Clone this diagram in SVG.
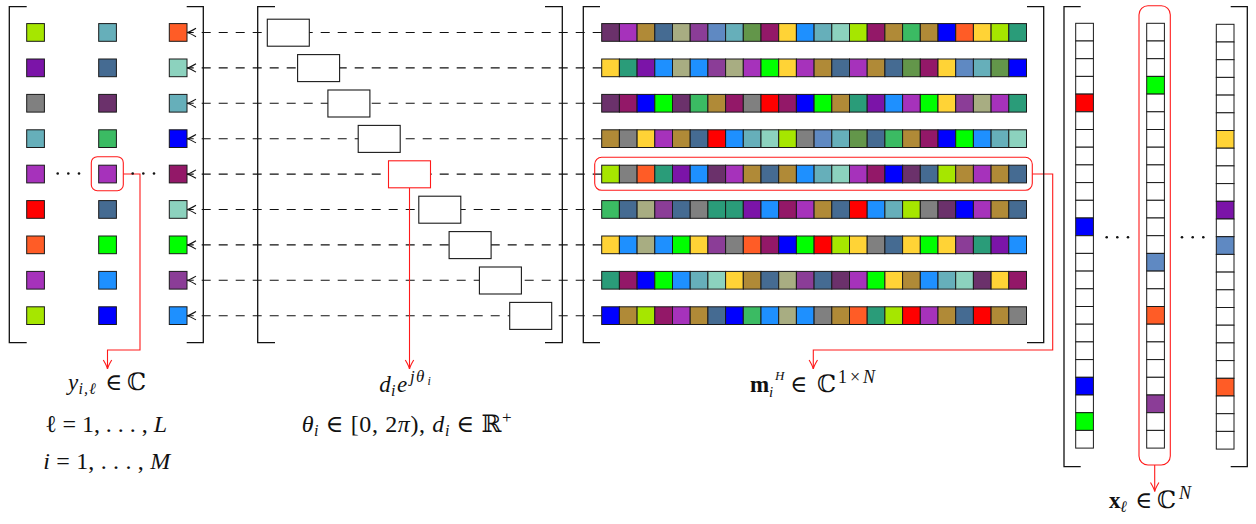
<svg xmlns="http://www.w3.org/2000/svg" xmlns:xlink="http://www.w3.org/1999/xlink" width="1256" height="524" viewBox="0 0 1256 524">
<style>
.br{fill:none;stroke:#111;stroke-width:1.3}
.sq{stroke:#1a1a1a;stroke-width:1}
.dash{stroke:#111;stroke-width:1.1;stroke-dasharray:9 8;fill:none}
.red{stroke:#ff1a1a;stroke-width:1.1;fill:none}
.bx{fill:#fff;stroke:#1a1a1a;stroke-width:1.1}
.bxr{fill:#fff;stroke:#ff1a1a;stroke-width:1.1}
.t{font-family:'Liberation Serif','DejaVu Serif',serif;fill:#111}
.i{font-style:italic}
.w{fill:#fff}.lm{fill:#a6e600}.vi{fill:#7b14a8}.gy{fill:#808080}.te{fill:#66afba}.mp{fill:#a632bb}.rd{fill:#ff0000}.or{fill:#ff5c26}.sb{fill:#456b92}.dp{fill:#6b316b}.gn{fill:#3bbb63}.bg{fill:#00ff00}.db{fill:#1e90ff}.bl{fill:#0000ff}.ma{fill:#931868}.aq{fill:#8cd2be}.pm{fill:#8b3d97}.tn{fill:#b08a37}.kh{fill:#a8ad82}.cf{fill:#5f89c2}.og{fill:#63964a}.gd{fill:#ffd336}.sg{fill:#2a9c79}
</style>
<defs>
<rect id="s" class="sq" width="17.7" height="17.7"/>
<marker id="ak" markerUnits="userSpaceOnUse" viewBox="-11 -6 13 12" refX="0" refY="0" markerWidth="13" markerHeight="12" orient="auto">
<path d="M-9,-4.2 Q-3,-0.6 0,0 Q-3,0.6 -9,4.2" fill="none" stroke="#111" stroke-width="1.1"/>
</marker>
<marker id="ar" markerUnits="userSpaceOnUse" viewBox="-11 -6 13 12" refX="0" refY="0" markerWidth="13" markerHeight="12" orient="auto">
<path d="M-9,-4.2 Q-3,-0.6 0,0 Q-3,0.6 -9,4.2" fill="none" stroke="#ff1a1a" stroke-width="1.1"/>
</marker>
</defs>
<rect width="1256" height="524" fill="#fff"/>

<g id="connectors">
<line class="dash" x1="601.7" y1="32.5" x2="187" y2="32.5" marker-end="url(#ak)"/>
<line class="dash" x1="601.7" y1="67.9" x2="187" y2="67.9" marker-end="url(#ak)"/>
<line class="dash" x1="601.7" y1="103.3" x2="187" y2="103.3" marker-end="url(#ak)"/>
<line class="dash" x1="601.7" y1="138.7" x2="187" y2="138.7" marker-end="url(#ak)"/>
<line class="dash" x1="601.7" y1="174.1" x2="187" y2="174.1" marker-end="url(#ak)"/>
<line class="dash" x1="601.7" y1="209.5" x2="187" y2="209.5" marker-end="url(#ak)"/>
<line class="dash" x1="601.7" y1="244.9" x2="187" y2="244.9" marker-end="url(#ak)"/>
<line class="dash" x1="601.7" y1="280.3" x2="187" y2="280.3" marker-end="url(#ak)"/>
<line class="dash" x1="601.7" y1="315.7" x2="187" y2="315.7" marker-end="url(#ak)"/>
<path class="red" d="M123.3,174 H140 V350 H107.5 V369" marker-end="url(#ar)"/>
<path class="red" d="M409.5,187.8 V369" marker-end="url(#ar)"/>
<path class="red" d="M1032.3,174 H1052.7 V350 H813.3 V369" marker-end="url(#ar)"/>
<path class="red" d="M1154.7,465 V491.5" marker-end="url(#ar)"/>
</g>

<g id="matrix-y">
<path class="br" d="M26.7,6.7 H9.3 V342.7 H26.7"/>
<path class="br" d="M186.7,6.7 H203.3 V342.7 H186.7"/>
<g transform="translate(26.7,23.6)">
<use href="#s" y="0" class="lm"/><use href="#s" y="35.4" class="vi"/><use href="#s" y="70.8" class="gy"/><use href="#s" y="106.2" class="te"/><use href="#s" y="141.6" class="mp"/><use href="#s" y="177" class="rd"/><use href="#s" y="212.4" class="or"/><use href="#s" y="247.8" class="mp"/><use href="#s" y="283.2" class="lm"/>
</g>
<g transform="translate(98.7,23.6)">
<use href="#s" y="0" class="te"/><use href="#s" y="35.4" class="sb"/><use href="#s" y="70.8" class="dp"/><use href="#s" y="106.2" class="gn"/><use href="#s" y="141.6" class="mp"/><use href="#s" y="177" class="sb"/><use href="#s" y="212.4" class="bg"/><use href="#s" y="247.8" class="db"/><use href="#s" y="283.2" class="bl"/>
</g>
<g transform="translate(169.3,23.6)">
<use href="#s" y="0" class="or"/><use href="#s" y="35.4" class="aq"/><use href="#s" y="70.8" class="te"/><use href="#s" y="106.2" class="bl"/><use href="#s" y="141.6" class="ma"/><use href="#s" y="177" class="aq"/><use href="#s" y="212.4" class="bg"/><use href="#s" y="247.8" class="pm"/><use href="#s" y="283.2" class="db"/>
</g>
<g fill="#111">
<circle cx="57.7" cy="173.5" r="1.3"/><circle cx="68.3" cy="173.5" r="1.3"/><circle cx="79" cy="173.5" r="1.3"/>
<circle cx="132.7" cy="173.5" r="1.3"/><circle cx="143.3" cy="173.5" r="1.3"/><circle cx="154" cy="173.5" r="1.3"/>
</g>
<rect class="red" x="91.3" y="156.7" width="32" height="34" rx="6"/>
</g>

<g id="matrix-d">
<path class="br" d="M275,6.7 H257.7 V342.7 H275"/>
<path class="br" d="M545,6.7 H562.3 V342.7 H545"/>
<rect class="bx" x="267.3" y="19.2" width="42" height="27"/>
<rect class="bx" x="297.6" y="54.6" width="42" height="27"/>
<rect class="bx" x="327.9" y="90" width="42" height="27"/>
<rect class="bx" x="358.2" y="125.4" width="42" height="27"/>
<rect class="bxr" x="388.5" y="160.8" width="42" height="27"/>
<rect class="bx" x="418.8" y="196.2" width="42" height="27"/>
<rect class="bx" x="449.1" y="231.6" width="42" height="27"/>
<rect class="bx" x="479.4" y="267" width="42" height="27"/>
<rect class="bx" x="509.7" y="302.4" width="42" height="27"/>
</g>

<g id="matrix-m">
<path class="br" d="M600,6.7 H583.3 V342.7 H600"/>
<path class="br" d="M1027,6.7 H1043.7 V342.7 H1027"/>
<g transform="translate(601.7,23.6)">
<use href="#s" x="0" class="dp"/><use href="#s" x="17.7" class="mp"/><use href="#s" x="35.4" class="tn"/><use href="#s" x="53.1" class="sb"/><use href="#s" x="70.8" class="kh"/><use href="#s" x="88.5" class="pm"/><use href="#s" x="106.2" class="cf"/><use href="#s" x="123.9" class="te"/><use href="#s" x="141.6" class="og"/><use href="#s" x="159.3" class="ma"/><use href="#s" x="177" class="gd"/><use href="#s" x="194.7" class="db"/><use href="#s" x="212.4" class="te"/><use href="#s" x="230.1" class="aq"/><use href="#s" x="247.8" class="lm"/><use href="#s" x="265.5" class="ma"/><use href="#s" x="283.2" class="tn"/><use href="#s" x="300.9" class="gn"/><use href="#s" x="318.6" class="tn"/><use href="#s" x="336.3" class="bl"/><use href="#s" x="354" class="or"/><use href="#s" x="371.7" class="gd"/><use href="#s" x="389.4" class="lm"/><use href="#s" x="407.1" class="sg"/>
</g>
<g transform="translate(601.7,59)">
<use href="#s" x="0" class="gd"/><use href="#s" x="17.7" class="sg"/><use href="#s" x="35.4" class="vi"/><use href="#s" x="53.1" class="db"/><use href="#s" x="70.8" class="kh"/><use href="#s" x="88.5" class="db"/><use href="#s" x="106.2" class="pm"/><use href="#s" x="123.9" class="kh"/><use href="#s" x="141.6" class="mp"/><use href="#s" x="159.3" class="bg"/><use href="#s" x="177" class="gd"/><use href="#s" x="194.7" class="mp"/><use href="#s" x="212.4" class="tn"/><use href="#s" x="230.1" class="sb"/><use href="#s" x="247.8" class="mp"/><use href="#s" x="265.5" class="tn"/><use href="#s" x="283.2" class="sb"/><use href="#s" x="300.9" class="og"/><use href="#s" x="318.6" class="ma"/><use href="#s" x="336.3" class="gd"/><use href="#s" x="354" class="cf"/><use href="#s" x="371.7" class="te"/><use href="#s" x="389.4" class="og"/><use href="#s" x="407.1" class="bl"/>
</g>
<g transform="translate(601.7,94.4)">
<use href="#s" x="0" class="dp"/><use href="#s" x="17.7" class="ma"/><use href="#s" x="35.4" class="bl"/><use href="#s" x="53.1" class="bg"/><use href="#s" x="70.8" class="dp"/><use href="#s" x="88.5" class="gn"/><use href="#s" x="106.2" class="tn"/><use href="#s" x="123.9" class="ma"/><use href="#s" x="141.6" class="gy"/><use href="#s" x="159.3" class="rd"/><use href="#s" x="177" class="ma"/><use href="#s" x="194.7" class="bl"/><use href="#s" x="212.4" class="bg"/><use href="#s" x="230.1" class="tn"/><use href="#s" x="247.8" class="sg"/><use href="#s" x="265.5" class="vi"/><use href="#s" x="283.2" class="db"/><use href="#s" x="300.9" class="mp"/><use href="#s" x="318.6" class="bg"/><use href="#s" x="336.3" class="gd"/><use href="#s" x="354" class="pm"/><use href="#s" x="371.7" class="kh"/><use href="#s" x="389.4" class="mp"/><use href="#s" x="407.1" class="sg"/>
</g>
<g transform="translate(601.7,129.8)">
<use href="#s" x="0" class="tn"/><use href="#s" x="17.7" class="gy"/><use href="#s" x="35.4" class="gd"/><use href="#s" x="53.1" class="mp"/><use href="#s" x="70.8" class="tn"/><use href="#s" x="88.5" class="sb"/><use href="#s" x="106.2" class="rd"/><use href="#s" x="123.9" class="db"/><use href="#s" x="141.6" class="te"/><use href="#s" x="159.3" class="aq"/><use href="#s" x="177" class="lm"/><use href="#s" x="194.7" class="gy"/><use href="#s" x="212.4" class="cf"/><use href="#s" x="230.1" class="te"/><use href="#s" x="247.8" class="og"/><use href="#s" x="265.5" class="sb"/><use href="#s" x="283.2" class="gn"/><use href="#s" x="300.9" class="tn"/><use href="#s" x="318.6" class="ma"/><use href="#s" x="336.3" class="bl"/><use href="#s" x="354" class="bg"/><use href="#s" x="371.7" class="db"/><use href="#s" x="389.4" class="te"/><use href="#s" x="407.1" class="aq"/>
</g>
<g transform="translate(601.7,165.2)">
<use href="#s" x="0" class="lm"/><use href="#s" x="17.7" class="gy"/><use href="#s" x="35.4" class="or"/><use href="#s" x="53.1" class="sg"/><use href="#s" x="70.8" class="vi"/><use href="#s" x="88.5" class="db"/><use href="#s" x="106.2" class="dp"/><use href="#s" x="123.9" class="mp"/><use href="#s" x="141.6" class="tn"/><use href="#s" x="159.3" class="sb"/><use href="#s" x="177" class="tn"/><use href="#s" x="194.7" class="db"/><use href="#s" x="212.4" class="te"/><use href="#s" x="230.1" class="aq"/><use href="#s" x="247.8" class="mp"/><use href="#s" x="265.5" class="ma"/><use href="#s" x="283.2" class="bl"/><use href="#s" x="300.9" class="dp"/><use href="#s" x="318.6" class="sb"/><use href="#s" x="336.3" class="lm"/><use href="#s" x="354" class="tn"/><use href="#s" x="371.7" class="mp"/><use href="#s" x="389.4" class="tn"/><use href="#s" x="407.1" class="sb"/>
</g>
<g transform="translate(601.7,200.6)">
<use href="#s" x="0" class="gn"/><use href="#s" x="17.7" class="sb"/><use href="#s" x="35.4" class="kh"/><use href="#s" x="53.1" class="pm"/><use href="#s" x="70.8" class="sb"/><use href="#s" x="88.5" class="gy"/><use href="#s" x="106.2" class="sg"/><use href="#s" x="123.9" class="sg"/><use href="#s" x="141.6" class="vi"/><use href="#s" x="159.3" class="db"/><use href="#s" x="177" class="ma"/><use href="#s" x="194.7" class="mp"/><use href="#s" x="212.4" class="tn"/><use href="#s" x="230.1" class="sb"/><use href="#s" x="247.8" class="rd"/><use href="#s" x="265.5" class="db"/><use href="#s" x="283.2" class="te"/><use href="#s" x="300.9" class="lm"/><use href="#s" x="318.6" class="gy"/><use href="#s" x="336.3" class="dp"/><use href="#s" x="354" class="bl"/><use href="#s" x="371.7" class="mp"/><use href="#s" x="389.4" class="tn"/><use href="#s" x="407.1" class="sb"/>
</g>
<g transform="translate(601.7,236)">
<use href="#s" x="0" class="gd"/><use href="#s" x="17.7" class="db"/><use href="#s" x="35.4" class="kh"/><use href="#s" x="53.1" class="db"/><use href="#s" x="70.8" class="bg"/><use href="#s" x="88.5" class="gd"/><use href="#s" x="106.2" class="pm"/><use href="#s" x="123.9" class="gy"/><use href="#s" x="141.6" class="or"/><use href="#s" x="159.3" class="ma"/><use href="#s" x="177" class="bl"/><use href="#s" x="194.7" class="bg"/><use href="#s" x="212.4" class="rd"/><use href="#s" x="230.1" class="lm"/><use href="#s" x="247.8" class="gd"/><use href="#s" x="265.5" class="gy"/><use href="#s" x="283.2" class="sb"/><use href="#s" x="300.9" class="gd"/><use href="#s" x="318.6" class="bg"/><use href="#s" x="336.3" class="gd"/><use href="#s" x="354" class="pm"/><use href="#s" x="371.7" class="sg"/><use href="#s" x="389.4" class="vi"/><use href="#s" x="407.1" class="db"/>
</g>
<g transform="translate(601.7,271.4)">
<use href="#s" x="0" class="sg"/><use href="#s" x="17.7" class="ma"/><use href="#s" x="35.4" class="bl"/><use href="#s" x="53.1" class="bg"/><use href="#s" x="70.8" class="db"/><use href="#s" x="88.5" class="te"/><use href="#s" x="106.2" class="aq"/><use href="#s" x="123.9" class="gd"/><use href="#s" x="141.6" class="tn"/><use href="#s" x="159.3" class="sb"/><use href="#s" x="177" class="kh"/><use href="#s" x="194.7" class="pm"/><use href="#s" x="212.4" class="sb"/><use href="#s" x="230.1" class="dp"/><use href="#s" x="247.8" class="mp"/><use href="#s" x="265.5" class="bg"/><use href="#s" x="283.2" class="gd"/><use href="#s" x="300.9" class="tn"/><use href="#s" x="318.6" class="db"/><use href="#s" x="336.3" class="te"/><use href="#s" x="354" class="aq"/><use href="#s" x="371.7" class="dp"/><use href="#s" x="389.4" class="gd"/><use href="#s" x="407.1" class="ma"/>
</g>
<g transform="translate(601.7,306.8)">
<use href="#s" x="0" class="bl"/><use href="#s" x="17.7" class="tn"/><use href="#s" x="35.4" class="lm"/><use href="#s" x="53.1" class="ma"/><use href="#s" x="70.8" class="mp"/><use href="#s" x="88.5" class="tn"/><use href="#s" x="106.2" class="sb"/><use href="#s" x="123.9" class="bl"/><use href="#s" x="141.6" class="gn"/><use href="#s" x="159.3" class="db"/><use href="#s" x="177" class="kh"/><use href="#s" x="194.7" class="db"/><use href="#s" x="212.4" class="gy"/><use href="#s" x="230.1" class="tn"/><use href="#s" x="247.8" class="or"/><use href="#s" x="265.5" class="sg"/><use href="#s" x="283.2" class="lm"/><use href="#s" x="300.9" class="rd"/><use href="#s" x="318.6" class="mp"/><use href="#s" x="336.3" class="tn"/><use href="#s" x="354" class="sb"/><use href="#s" x="371.7" class="rd"/><use href="#s" x="389.4" class="tn"/><use href="#s" x="407.1" class="gy"/>
</g>
<rect class="red" x="594.7" y="157.3" width="437.6" height="33" rx="7"/>
</g>

<g id="matrix-x">
<path class="br" d="M1080.7,6.7 H1064 V466.7 H1080.7"/>
<path class="br" d="M1230.7,6.7 H1247.3 V466.7 H1230.7"/>
<g transform="translate(1075.7,23.3)">
<use href="#s" y="0" class="w"/><use href="#s" y="17.7" class="w"/><use href="#s" y="35.4" class="w"/><use href="#s" y="53.1" class="w"/><use href="#s" y="70.8" class="rd"/><use href="#s" y="88.5" class="w"/><use href="#s" y="106.2" class="w"/><use href="#s" y="123.9" class="w"/><use href="#s" y="141.6" class="w"/><use href="#s" y="159.3" class="w"/><use href="#s" y="177" class="w"/><use href="#s" y="194.7" class="bl"/><use href="#s" y="212.4" class="w"/><use href="#s" y="230.1" class="w"/><use href="#s" y="247.8" class="w"/><use href="#s" y="265.5" class="w"/><use href="#s" y="283.2" class="w"/><use href="#s" y="300.9" class="w"/><use href="#s" y="318.6" class="w"/><use href="#s" y="336.3" class="w"/><use href="#s" y="354" class="bl"/><use href="#s" y="371.7" class="w"/><use href="#s" y="389.4" class="bg"/><use href="#s" y="407.1" class="w"/>
</g>
<g transform="translate(1146.7,23.3)">
<use href="#s" y="0" class="w"/><use href="#s" y="17.7" class="w"/><use href="#s" y="35.4" class="w"/><use href="#s" y="53.1" class="bg"/><use href="#s" y="70.8" class="w"/><use href="#s" y="88.5" class="w"/><use href="#s" y="106.2" class="w"/><use href="#s" y="123.9" class="w"/><use href="#s" y="141.6" class="w"/><use href="#s" y="159.3" class="w"/><use href="#s" y="177" class="w"/><use href="#s" y="194.7" class="w"/><use href="#s" y="212.4" class="w"/><use href="#s" y="230.1" class="cf"/><use href="#s" y="247.8" class="w"/><use href="#s" y="265.5" class="w"/><use href="#s" y="283.2" class="or"/><use href="#s" y="300.9" class="w"/><use href="#s" y="318.6" class="w"/><use href="#s" y="336.3" class="w"/><use href="#s" y="354" class="w"/><use href="#s" y="371.7" class="pm"/><use href="#s" y="389.4" class="w"/><use href="#s" y="407.1" class="w"/>
</g>
<g transform="translate(1216.3,24.3)">
<use href="#s" y="0" class="w"/><use href="#s" y="17.7" class="w"/><use href="#s" y="35.4" class="w"/><use href="#s" y="53.1" class="w"/><use href="#s" y="70.8" class="w"/><use href="#s" y="88.5" class="w"/><use href="#s" y="106.2" class="gd"/><use href="#s" y="123.9" class="w"/><use href="#s" y="141.6" class="w"/><use href="#s" y="159.3" class="w"/><use href="#s" y="177" class="vi"/><use href="#s" y="194.7" class="w"/><use href="#s" y="212.4" class="cf"/><use href="#s" y="230.1" class="w"/><use href="#s" y="247.8" class="w"/><use href="#s" y="265.5" class="w"/><use href="#s" y="283.2" class="w"/><use href="#s" y="300.9" class="w"/><use href="#s" y="318.6" class="w"/><use href="#s" y="336.3" class="w"/><use href="#s" y="354" class="or"/><use href="#s" y="371.7" class="w"/><use href="#s" y="389.4" class="w"/><use href="#s" y="407.1" class="w"/>
</g>
<g fill="#111">
<circle cx="1106.7" cy="237.3" r="1.3"/><circle cx="1117.3" cy="237.3" r="1.3"/><circle cx="1128" cy="237.3" r="1.3"/>
<circle cx="1182" cy="237.3" r="1.3"/><circle cx="1192.7" cy="237.3" r="1.3"/><circle cx="1203.3" cy="237.3" r="1.3"/>
</g>
<rect class="red" x="1139" y="5.7" width="31.3" height="459.3" rx="9"/>
</g>

<g id="labels" font-size="23">
<text class="t" x="68" y="390"><tspan class="i">y</tspan><tspan class="i" x="78.5" y="394" font-size="16" letter-spacing="1">i,ℓ</tspan><tspan x="105" y="390">∈</tspan><tspan x="127" font-size="24">ℂ</tspan></text>
<text class="t" x="106" y="432" text-anchor="middle" textLength="122" lengthAdjust="spacing" font-size="24">ℓ = 1, . . . , <tspan class="i">L</tspan></text>
<text class="t" x="106.7" y="469" text-anchor="middle" textLength="127" lengthAdjust="spacing" font-size="24"><tspan class="i">i</tspan> = 1, . . . , <tspan class="i">M</tspan></text>
<text class="t" x="379.3" y="392"><tspan class="i">d</tspan><tspan class="i" x="391" y="396" font-size="16">i</tspan><tspan class="i" x="397" y="392">e</tspan><tspan class="i" x="410" y="382" font-size="17">j</tspan><tspan class="i" x="416" y="382" font-size="17">θ</tspan><tspan class="i" x="427.5" y="385" font-size="12">i</tspan></text>
<text class="t" x="406.7" y="432" text-anchor="middle" textLength="210" lengthAdjust="spacing" font-size="24"><tspan class="i">θ</tspan><tspan class="i" font-size="16" dy="4">i</tspan><tspan dy="-4"> ∈ [0, 2</tspan><tspan class="i">π</tspan>), <tspan class="i">d</tspan><tspan class="i" font-size="16" dy="4">i</tspan><tspan dy="-4"> ∈ ℝ</tspan><tspan font-size="17" dy="-9">+</tspan></text>
<text class="t" x="750" y="391.7"><tspan font-weight="bold">m</tspan><tspan class="i" x="769" y="397" font-size="15">i</tspan><tspan class="i" x="775" y="380" font-size="13">H</tspan><tspan x="790" y="391.7">∈</tspan><tspan x="817" font-size="24">ℂ</tspan><tspan x="838" y="383" font-size="18" textLength="37" lengthAdjust="spacing">1×<tspan class="i">N</tspan></tspan></text>
<text class="t" x="1109" y="508"><tspan font-weight="bold">x</tspan><tspan class="i" x="1120" y="512" font-size="16">ℓ</tspan><tspan x="1135" y="508">∈</tspan><tspan x="1157" font-size="24">ℂ</tspan><tspan class="i" x="1179" y="499" font-size="18">N</tspan></text>
</g>
</svg>
